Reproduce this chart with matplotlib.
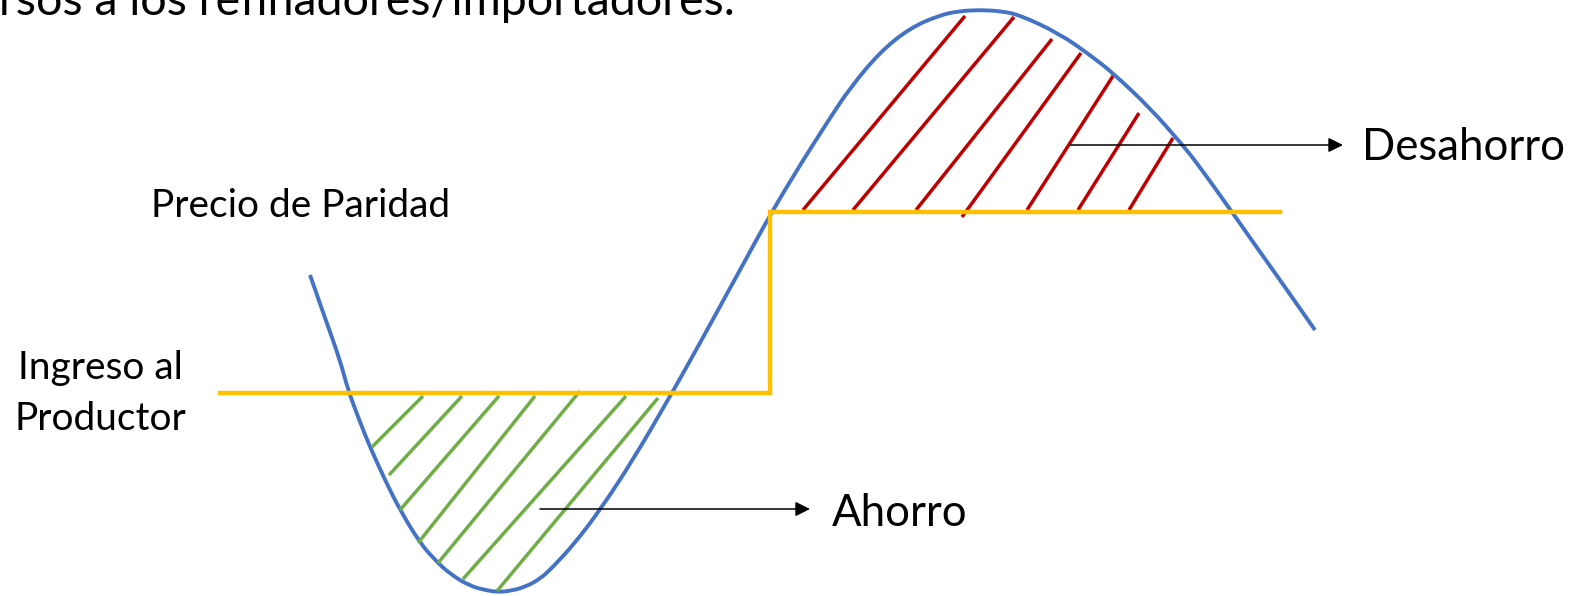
import matplotlib.pyplot as plt
from matplotlib.path import Path
from matplotlib.patches import PathPatch

plt.rcParams['font.family'] = ['Lato', 'DejaVu Sans']

# curva de precio (coordenadas en pixeles de la imagen)
curve_x = [310, 325, 340, 348, 360, 370, 385, 400, 420, 435, 450, 470, 485, 497, 510, 525,
           540, 553, 575, 600, 633, 672, 700, 740, 770, 800, 830, 850, 880, 910, 940, 960,
           980, 1000, 1020, 1060, 1090, 1113, 1150, 1180, 1197, 1232, 1253, 1280, 1315]
curve_y = [275, 318, 360, 390, 422, 447, 480, 510, 543, 560, 574, 586, 590, 592, 591, 587,
           579, 567, 543, 510, 460, 393, 343, 270, 215, 165, 118, 88, 52, 28, 15, 11,
           10, 11, 15, 34, 55, 73, 108, 142, 163, 212, 242, 280, 330]

# ingreso al productor / precio de paridad
step_x = [220, 770, 770, 1280]
step_y = [393, 393, 212, 212]

# rayado de ahorro (verde) y desahorro (rojo): (x0, y0, x1, y1)
green_hatch = [(372, 447, 423, 396), (389, 475, 462, 396), (400, 510, 499, 396),
               (418, 543, 535, 396), (438, 563, 580, 391), (463, 579, 626, 396),
               (497, 591, 658, 398)]
red_hatch = [(803, 210, 965, 16), (853, 210, 1014, 17), (916, 210, 1052, 39),
             (962, 217, 1081, 53), (1027, 210, 1113, 76), (1078, 210, 1139, 113),
             (1129, 210, 1173, 138)]

fig = plt.figure(figsize=(15.7, 5.96), dpi=100)
ax = fig.add_axes([0, 0, 1, 1])
ax.set_xlim(0, 1570)
ax.set_ylim(596, 0)
ax.axis('off')

for x0, y0, x1, y1 in green_hatch:
    ax.plot([x0, x1], [y0, y1], color='#70AD47', lw=2.5, solid_capstyle='butt')
for x0, y0, x1, y1 in red_hatch:
    ax.plot([x0, x1], [y0, y1], color='#C00000', lw=2.5, solid_capstyle='butt')

ax.plot(step_x, step_y, color='#FFC000', lw=3.2, solid_joinstyle='miter')

# curva suavizada: puntos leidos como controles de curvas cuadraticas
pts = list(zip(curve_x, curve_y))
verts = [pts[0]]
codes = [Path.MOVETO]
for i in range(1, len(pts) - 1):
    mid = ((pts[i][0] + pts[i + 1][0]) / 2, (pts[i][1] + pts[i + 1][1]) / 2)
    verts += [pts[i], mid]
    codes += [Path.CURVE3, Path.CURVE3]
verts.append(pts[-1])
codes.append(Path.LINETO)
ax.add_patch(PathPatch(Path(verts, codes), fill=False, edgecolor='#4472C4', lw=2.8,
                       joinstyle='round'))

arr = dict(arrowstyle='-|>', color='black', lw=1.1, mutation_scale=22, shrinkA=0, shrinkB=0)
ax.annotate('', xy=(1343, 145), xytext=(1070, 145), arrowprops=arr)
ax.annotate('', xy=(810, 509), xytext=(540, 509), arrowprops=arr)

ax.text(1362, 148, 'Desahorro', fontsize=31.5, va='center', ha='left')
ax.text(832, 513, 'Ahorro', fontsize=31.5, va='center', ha='left')
ax.text(151, 217, 'Precio de Paridad', fontsize=28, va='baseline', ha='left')
ax.text(18, 379, 'Ingreso al', fontsize=28, va='baseline', ha='left')
ax.text(14, 430, 'Productor', fontsize=28, va='baseline', ha='left')
ax.text(-1, 15, 'rsos a los refinadores/importadores.', fontsize=33.5,
        va='baseline', ha='left')

fig.savefig('out.png', dpi=100)
